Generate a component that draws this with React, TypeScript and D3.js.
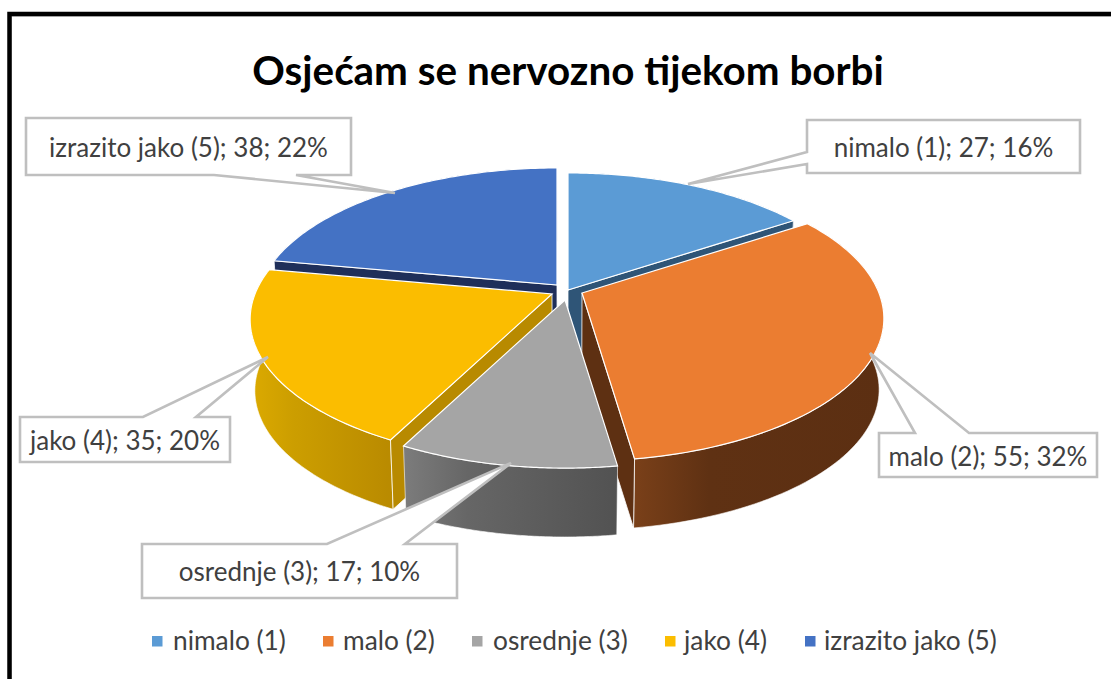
import React from "react";
import * as d3 from "d3";

const title = "Osjećam se nervozno tijekom borbi";
const categories = ["nimalo (1)", "malo (2)", "osrednje (3)", "jako (4)", "izrazito jako (5)"];
const values = [27, 55, 17, 35, 38];
const topColors = ["#5b9bd5", "#eb7d31", "#a5a5a5", "#fbbd00", "#4472c4"];
const cutColors = ["#2f5577", "#5e3012", "#5a5a5a", "#b88a00", "#1f2f5a"];
const wallFrom = ["#5b9bd5", "#7a4019", "#7c7c7c", "#dcaa00", "#2f5597"];
const wallMid = ["#33597c", "#5f3113", "#666666", "#cc9e00", "#1f2f5a"];
const wallTo = ["#33597c", "#5c2f12", "#525252", "#b98a00", "#1f2f5a"];
const apexes: [number, number][] = [[568, 290], [582, 293], [565, 300], [552, 294], [557, 285]];
const cutAtEnd = [true, true, false, false, false];
const hasCut = [true, true, false, true, true];
const drawOrder = [4, 0, 3, 1, 2];
const legendSquares = [152, 323, 472, 665, 805];
const legendTexts = [173, 343, 493, 684, 824];
const boxes = [
  { x0: 807, y0: 120, x1: 1080, y1: 173, side: "left", a: 152, b: 164, tip: [688, 184] },
  { x0: 879, y0: 433, x1: 1097, y1: 477, side: "top", a: 915, b: 969, tip: [870, 353] },
  { x0: 142, y0: 544, x1: 457, y1: 598, side: "top", a: 327, b: 405, tip: [511, 463] },
  { x0: 20, y0: 417, x1: 230, y1: 462, side: "top", a: 143, b: 196, tip: [268, 357] },
  { x0: 26, y0: 118, x1: 351, y1: 175, side: "bottom", a: 214, b: 296, tip: [395, 193] },
];

const FONT = "Lato, Carlito, sans-serif";
const Rx = 297, Ry = 138, K = 0.179, S = 0.985, D = 71.5, CX = 567, CY = 295;
type P = [number, number];

function top(i: number, a: number): P {
  const u = Math.sin(a), v = -Math.cos(a), w = 1 - K * v;
  return [apexes[i][0] + (Rx * u) / w, apexes[i][1] + (Ry * v) / w];
}
function low(p: P): P {
  return [CX + (p[0] - CX) * S, CY + (p[1] - CY) * S + D];
}
const line = d3.line<P>().x((d) => d[0]).y((d) => d[1]);
const total = d3.sum(values);
const arcs = d3.pie<number>().sort(null)(values);

function rim(i: number): P[] {
  const { startAngle, endAngle } = arcs[i];
  return d3.range(0, 81).map((k) => top(i, startAngle + ((endAngle - startAngle) * k) / 80));
}
function calloutPath(b: (typeof boxes)[number]) {
  const { x0, y0, x1, y1, a, b: c, tip } = b;
  let pts: number[][];
  if (b.side === "left") pts = [[x0, y0], [x1, y0], [x1, y1], [x0, y1], [x0, c], tip, [x0, a]];
  else if (b.side === "top") pts = [[x0, y0], [a, y0], tip, [c, y0], [x1, y0], [x1, y1], [x0, y1]];
  else pts = [[x0, y0], [x1, y0], [x1, y1], [c, y1], tip, [a, y1], [x0, y1]];
  return line(pts as P[]) + "Z";
}

export default function App() {
  return (
    <svg width={1111} height={679} style={{ position: "absolute", left: 0, top: 0, background: "#fff" }}>
      <defs>
        {categories.map((_, i) => (
          <linearGradient key={i} id={`wall${i}`} gradientUnits="objectBoundingBox" x1="0" x2="1" y1="0" y2="0">
            <stop offset="0" stopColor={wallFrom[i]} />
            <stop offset="0.3" stopColor={wallMid[i]} />
            <stop offset="1" stopColor={wallTo[i]} />
          </linearGradient>
        ))}
      </defs>
      <rect x={11.5} y={16.5} width={1100} height={663} fill="#fff" stroke="#d9d9d9" strokeWidth={1} />
      <path d="M9.5 679V14H1111" fill="none" stroke="#000" strokeWidth={4.5} />
      <text x={568} y={85} textAnchor="middle" fontFamily={FONT} fontWeight={700} fontSize={40.4} fill="#000">{title}</text>

      {drawOrder.map((i) => {
        const r = rim(i);
        const bottom = r.map(low).reverse();
        const apex = apexes[i];
        const e = cutAtEnd[i] ? r[r.length - 1] : r[0];
        const cut: P[] = [apex, e, low(e), low(apex)];
        return (
          <g key={i}>
            <path d={line([...r, ...bottom]) + "Z"} fill={`url(#wall${i})`} stroke="#fff" strokeWidth={0.6} />
            {hasCut[i] && <path d={line(cut) + "Z"} fill={cutColors[i]} stroke="#fff" strokeWidth={0.8} />}
            <path d={line([apex, ...r]) + "Z"} fill={topColors[i]} stroke="#fff" strokeWidth={1.2} />
          </g>
        );
      })}

      {boxes.map((b, i) => (
        <g key={i}>
          <path d={calloutPath(b)} fill="#fff" stroke="#bfbfbf" strokeWidth={2.6} />
          <text x={(b.x0 + b.x1) / 2} y={i === 1 ? 466 : (b.y0 + b.y1) / 2 + 10} textAnchor="middle" fontFamily={FONT} fontSize={26} fill="#404040">
            {`${categories[i]}; ${values[i]}; ${Math.round((values[i] / total) * 100)}%`}
          </text>
        </g>
      ))}

      {categories.map((c, i) => (
        <g key={c}>
          <rect x={legendSquares[i]} y={636} width={10.5} height={10.5} fill={topColors[i]} />
          <text x={legendTexts[i]} y={650} fontFamily={FONT} fontSize={26.3} fill="#404040">{c}</text>
        </g>
      ))}
    </svg>
  );
}
